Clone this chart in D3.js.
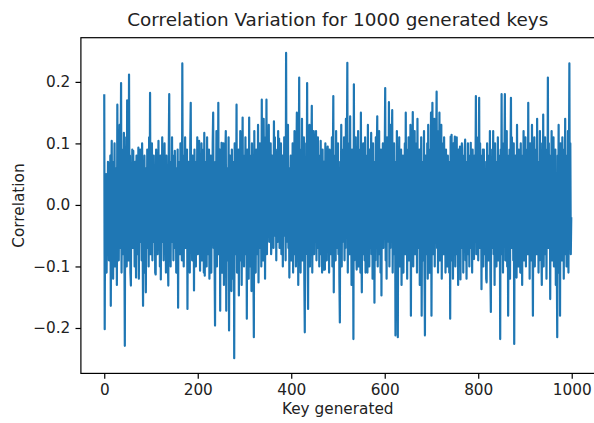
<!DOCTYPE html>
<html>
<head>
<meta charset="utf-8">
<script src="https://cdn.jsdelivr.net/npm/d3@7"></script>
<style>
  body { margin: 0; background: #fff; }
  text { font-family: "DejaVu Sans", sans-serif; fill: #222; }
</style>
</head>
<body>
<div id="corrplot"></div>
<script>
// labels
var title = "Correlation Variation for 1000 generated keys"
var xLabel = "Key generated"
var yLabel = "Correlation"
var xTicks = [0, 200, 400, 600, 800, 1000]
var yTicks = [-0.2, -0.1, 0.0, 0.1, 0.2]

// correlation value for each generated key (key = index)
var corr = [
  0.18, -0.202, 0.03, -0.07, 0.05, -0.11, 0.02, -0.05, 0.07, 0.066,
  -0.09, 0.03, -0.06, 0.08, -0.164, 0.02, 0.104, -0.08, 0.05, -0.12,
  0.07, -0.03, 0.10, -0.10, 0.06, -0.05, 0.02, -0.13, 0.163, -0.06,
  0.08, -0.09, 0.03, 0.13, -0.07, 0.06, 0.198, -0.11, 0.05, -0.03,
  0.09, -0.08, 0.117, -0.05, -0.229, 0.07, -0.02, 0.11, -0.10, 0.17,
  -0.06, 0.05, -0.09, 0.212, -0.03, 0.08, -0.11, -0.131, 0.06, -0.02,
  0.09, -0.07, 0.088, -0.05, 0.03, -0.10, 0.07, 0.02, -0.118, 0.08,
  -0.03, 0.06, -0.08, 0.093, -0.12, 0.05, -0.06, 0.09, -0.02, 0.03,
  -0.09, 0.10, -0.05, -0.164, 0.07, -0.03, 0.08, -0.11, 0.02, -0.142,
  0.06, -0.07, 0.09, -0.02, 0.05, -0.10, 0.11, -0.05, 0.182, -0.08,
  0.07, -0.03, 0.10, -0.09, 0.05, -0.06, 0.08, -0.02, 0.03, -0.11,
  -0.113, 0.09, -0.05, 0.06, -0.08, 0.02, 0.104, -0.07, 0.05, -0.10,
  0.08, -0.121, 0.03, -0.03, 0.11, -0.06, 0.07, -0.09, 0.02, 0.10,
  -0.07, 0.05, -0.11, 0.08, -0.02, 0.06, -0.08, -0.131, 0.09, 0.18,
  -0.05, 0.03, -0.10, 0.07, -0.06, 0.11, -0.03, 0.02, -0.09, 0.08,
  -0.07, 0.088, -0.03, 0.06, -0.11, 0.05, -0.02, 0.09, -0.167, 0.07,
  -0.05, 0.03, -0.08, 0.10, -0.06, 0.02, -0.09, 0.23, -0.03, 0.08,
  -0.10, 0.05, -0.02, 0.11, -0.07, 0.06, -0.05, 0.09, -0.169, 0.03,
  0.07, -0.08, 0.02, -0.11, 0.10, 0.166, -0.06, 0.05, -0.09, 0.08,
  -0.03, 0.06, -0.139, 0.09, -0.05, 0.03, -0.10, 0.07, -0.02, 0.11,
  -0.08, 0.05, -0.06, 0.104, -0.03, -0.107, 0.08, -0.05, 0.10, -0.09,
  0.02, -0.07, 0.09, -0.11, 0.117, -0.115, 0.06, -0.03, 0.07, -0.10,
  0.11, -0.06, 0.03, -0.08, 0.09, -0.12, 0.05, -0.02, 0.08, -0.11,
  0.06, -0.05, 0.10, 0.15, -0.07, 0.03, -0.09, -0.196, 0.07, -0.03,
  0.12, -0.10, 0.05, -0.06, 0.166, -0.08, 0.02, 0.09, -0.172, 0.06,
  -0.05, 0.101, -0.11, 0.07, -0.03, 0.10, -0.13, 0.05, -0.07, 0.08,
  0.12, -0.172, 0.06, -0.09, 0.03, -0.05, 0.11, -0.204, 0.02, 0.08,
  -0.10, 0.05, -0.14, 0.09, -0.06, 0.03, -0.12, 0.07, -0.249, 0.10,
  -0.08, 0.06, -0.03, 0.163, -0.11, 0.02, -0.07, 0.09, -0.147, 0.05,
  -0.05, 0.12, -0.09, 0.07, -0.13, 0.03, 0.142, -0.06, 0.08, -0.10,
  0.05, -0.03, 0.11, -0.08, 0.06, -0.185, 0.09, -0.05, 0.02, -0.12,
  0.142, -0.07, 0.08, -0.10, 0.05, -0.14, 0.10, -0.03, 0.07, -0.09,
  -0.215, 0.12, -0.06, 0.03, -0.11, 0.09, -0.02, 0.06, -0.08, 0.13,
  -0.126, 0.05, -0.07, 0.10, -0.03, 0.08, -0.10, 0.171, -0.05, 0.07,
  -0.09, 0.14, -0.02, 0.06, -0.12, 0.11, -0.06, 0.171, -0.08, 0.05,
  0.09, -0.03, 0.13, -0.06, 0.06, -0.02, 0.10, -0.08, -0.053, 0.08,
  -0.04, 0.03, -0.07, 0.136, -0.05, 0.11, -0.02, 0.07, -0.09, 0.05,
  0.09, -0.06, 0.12, -0.03, 0.108, -0.07, 0.06, -0.04, 0.10, -0.08,
  0.03, 0.08, -0.1, 0.05, -0.05, 0.11, -0.03, 0.07, -0.09, 0.247,
  -0.06, 0.09, -0.04, 0.13, -0.07, 0.03, -0.118, 0.06, -0.02, 0.08,
  -0.09, 0.05, -0.06, 0.10, -0.11, 0.07, -0.03, 0.12, -0.08, 0.02,
  -0.10, 0.06, 0.15, -0.05, 0.08, -0.13, 0.03, 0.207, -0.07, 0.09,
  -0.11, 0.05, -0.03, 0.14, -0.09, 0.07, -0.06, 0.11, -0.12, -0.207,
  0.06, -0.08, 0.10, -0.02, 0.198, -0.07, -0.169, 0.08, -0.05, 0.13,
  -0.10, 0.03, -0.06, 0.09, 0.161, -0.11, 0.05, -0.03, 0.12, -0.08,
  0.07, -0.05, 0.10, 0.12, -0.09, 0.03, -0.07, 0.11, -0.02, 0.06,
  -0.10, 0.08, -0.03, 0.104, -0.08, 0.05, -0.11, 0.09, -0.06, -0.105,
  0.07, -0.02, -0.105, 0.10, -0.05, 0.03, -0.09, 0.08, 0.095, -0.06,
  0.05, -0.11, 0.09, -0.03, 0.07, -0.08, 0.02, 0.11, -0.10, 0.06,
  0.177, -0.142, 0.08, -0.05, 0.03, -0.09, 0.12, -0.07, 0.06, -0.02,
  0.10, -0.08, 0.05, -0.12, -0.191, 0.07, -0.03, 0.13, -0.10, 0.06,
  -0.06, 0.09, -0.02, 0.11, -0.09, 0.03, -0.07, 0.14, -0.05, 0.08,
  0.231, -0.11, 0.06, -0.03, 0.10, -0.08, 0.144, -0.06, 0.05, -0.13,
  0.09, -0.02, 0.07, -0.218, 0.196, -0.09, 0.03, -0.05, 0.11, -0.07,
  -0.105, 0.08, -0.03, 0.12, -0.10, 0.05, -0.06, 0.09, -0.11, 0.15,
  -0.05, -0.142, 0.07, -0.08, 0.10, -0.02, 0.06, -0.09, 0.11, -0.11,
  0.03, -0.06, 0.08, -0.11, 0.13, -0.03, 0.05, -0.10, 0.09, -0.07,
  0.02, 0.117, -0.08, 0.06, -0.12, 0.10, -0.05, 0.07, -0.159, 0.03,
  -0.09, 0.11, -0.06, 0.08, 0.144, -0.10, 0.05, -0.03, 0.12, -0.08,
  0.07, -0.11, 0.09, -0.147, 0.06, -0.02, 0.10, -0.07, 0.03, -0.05,
  0.08, 0.19, -0.09, 0.05, -0.12, 0.11, -0.06, 0.07, -0.03, 0.167,
  -0.10, 0.06, -0.07, 0.13, -0.05, 0.09, 0.154, -0.11, 0.03, -0.08,
  0.10, -0.02, 0.07, -0.212, 0.05, -0.09, 0.12, -0.06, -0.215, 0.08,
  -0.03, 0.11, -0.10, 0.06, -0.07, 0.09, -0.13, 0.03, -0.05, 0.08,
  -0.11, 0.07, -0.02, 0.10, -0.08, 0.15, -0.06, 0.05, -0.12, 0.09,
  -0.03, 0.11, -0.09, 0.06, -0.07, 0.13, -0.18, 0.08, -0.05, 0.03,
  0.151, -0.10, 0.07, -0.06, 0.12, -0.08, 0.05, -0.02, 0.10, -0.11,
  0.14, -0.07, 0.06, -0.03, 0.09, -0.13, 0.08, -0.05, 0.11, -0.18,
  0.03, -0.09, 0.07, -0.06, 0.12, -0.10, -0.212, 0.08, -0.02, 0.05,
  -0.08, 0.10, -0.12, 0.13, -0.05, 0.07, -0.11, 0.09, -0.03, 0.15,
  -0.18, 0.06, 0.166, -0.08, 0.11, -0.05, 0.14, -0.10, 0.07, -0.02,
  0.09, 0.184, -0.07, 0.12, -0.11, 0.06, -0.03, 0.15, -0.09, 0.08,
  -0.06, 0.13, -0.12, 0.10, -0.05, 0.07, -0.08, 0.11, -0.02, 0.05,
  -0.11, 0.09, -0.07, 0.03, -0.10, 0.08, -0.03, 0.06, -0.11, 0.07,
  -0.185, 0.111, -0.06, 0.114, -0.09, 0.05, -0.12, 0.10, -0.03, 0.08,
  0.111, -0.10, 0.06, -0.05, 0.11, -0.08, 0.03, -0.13, 0.09, -0.02,
  0.07, 0.095, -0.121, 0.05, -0.07, 0.10, -0.03, 0.08, -0.11, 0.06,
  -0.06, 0.09, 0.106, -0.09, 0.03, -0.12, 0.07, -0.05, 0.10, -0.08,
  0.02, -0.10, 0.08, -0.03, 0.101, -0.07, 0.05, -0.11, 0.09, -0.02,
  0.06, -0.088, 0.08, -0.06, 0.03, 0.177, -0.08, 0.11, -0.05, 0.07,
  -0.09, 0.05, 0.174, -0.07, 0.10, -0.03, 0.08, -0.137, 0.06, -0.06,
  0.09, -0.10, 0.09, -0.02, 0.07, -0.08, 0.03, -0.12, -0.126, 0.10,
  -0.05, 0.08, -0.09, 0.06, -0.03, 0.12, -0.11, -0.174, 0.05, -0.07,
  0.09, -0.02, 0.12, -0.08, 0.06, -0.13, 0.10, -0.05, 0.07, -0.10,
  0.03, -0.06, 0.11, -0.09, 0.08, -0.03, 0.05, -0.218, 0.09, -0.07,
  0.18, -0.08, 0.06, -0.11, 0.10, -0.03, 0.07, 0.18, -0.09, 0.05,
  -0.06, 0.12, -0.10, 0.08, -0.18, 0.03, -0.05, 0.09, -0.12, 0.07,
  0.174, -0.07, 0.11, -0.02, 0.06, -0.09, 0.10, -0.226, 0.05, -0.08,
  0.08, -0.03, -0.118, 0.13, -0.06, 0.07, -0.10, 0.09, -0.05, 0.03,
  -0.11, 0.10, -0.07, 0.06, -0.13, 0.08, -0.02, 0.12, -0.09, 0.05,
  -0.06, 0.11, -0.10, 0.07, -0.03, 0.09, -0.08, 0.166, -0.05, 0.06,
  -0.12, 0.10, -0.07, 0.03, -0.09, 0.13, -0.02, -0.18, 0.08, -0.06,
  0.11, -0.10, 0.05, -0.03, 0.09, -0.08, 0.14, -0.05, 0.07, -0.11,
  0.06, -0.09, 0.12, -0.02, 0.08, -0.07, -0.13, 0.10, -0.06, 0.147,
  -0.10, 0.07, -0.03, 0.11, -0.08, 0.05, -0.12, 0.09, -0.06, 0.207,
  -0.07, 0.10, -0.05, 0.08, -0.153, 0.06, -0.02, 0.12, -0.09, 0.03,
  -0.06, 0.11, -0.10, 0.07, -0.03, 0.09, -0.13, 0.05, -0.08, -0.215,
  0.08, -0.05, 0.13, -0.11, 0.06, -0.18, 0.10, -0.07, 0.03, -0.09,
  0.11, -0.03, 0.07, -0.12, 0.09, -0.06, 0.14, -0.08, 0.05, -0.10,
  0.08, -0.05, 0.12, -0.11, 0.06, 0.23, -0.07, 0.10, -0.08, -0.02
]

var data = corr.map(function (d, i) {
  return { key: i, value: d };
})

// set the dimensions and margins of the graph
var width = 594,
  height = 423
var margin = { top: 37.7, right: -0.6, bottom: 49.6, left: 80.9 }

var svg = d3.select("#corrplot")
  .append("svg")
  .attr("width", width)
  .attr("height", height)

// x scale with 5% padding like the matplotlib default
var xExt = d3.extent(data, function (d) { return d.key; })
var xPad = (xExt[1] - xExt[0]) * 0.05
var x = d3.scaleLinear()
  .domain([xExt[0] - xPad, xExt[1] + xPad])
  .range([margin.left, width - margin.right])

var yExt = d3.extent(data, function (d) { return d.value; })
var yPad = (yExt[1] - yExt[0]) * 0.05
var y = d3.scaleLinear()
  .domain([yExt[0] - yPad, yExt[1] + yPad])
  .range([height - margin.bottom, margin.top])

// the line
svg.append("path")
  .datum(data)
  .attr("fill", "none")
  .attr("stroke", "#1f77b4")
  .attr("stroke-width", 2.2)
  .attr("stroke-linejoin", "round")
  .attr("d", d3.line()
    .x(function (d) { return x(d.key); })
    .y(function (d) { return y(d.value); })
  )

// frame
svg.append("rect")
  .attr("x", x.range()[0])
  .attr("y", y.range()[1])
  .attr("width", x.range()[1] - x.range()[0])
  .attr("height", y.range()[0] - y.range()[1])
  .attr("fill", "none")
  .attr("stroke", "#000")
  .attr("stroke-width", 1.2)

// axes
var fmtY = function (d) { return d3.format(".1f")(d).replace("-", "\u2212"); }

svg.append("g")
  .attr("transform", "translate(0," + y.range()[0] + ")")
  .call(d3.axisBottom(x).tickValues(xTicks).tickFormat(d3.format("d")).tickSize(5.4).tickPadding(5.2))
svg.append("g")
  .attr("transform", "translate(" + x.range()[0] + ",0)")
  .call(d3.axisLeft(y).tickValues(yTicks).tickFormat(fmtY).tickSize(5.4).tickPadding(5.2))

svg.selectAll(".domain").remove()
svg.selectAll(".tick line").attr("stroke", "#000").attr("stroke-width", 1.2)
svg.selectAll(".tick text")
  .style("font-family", "DejaVu Sans")
  .style("font-size", "15.3px")
  .attr("fill", "#222")

// title and axis labels
svg.append("text")
  .attr("x", (x.range()[0] + x.range()[1]) / 2)
  .attr("y", 26)
  .attr("text-anchor", "middle")
  .style("font-size", "18.4px")
  .text(title)

svg.append("text")
  .attr("x", (x.range()[0] + x.range()[1]) / 2)
  .attr("y", 414)
  .attr("text-anchor", "middle")
  .style("font-size", "15.3px")
  .text(xLabel)

svg.append("text")
  .attr("transform", "translate(23.5," + (y.range()[0] + y.range()[1]) / 2 + ") rotate(-90)")
  .attr("text-anchor", "middle")
  .style("font-size", "15.3px")
  .text(yLabel)
</script>
</body>
</html>
